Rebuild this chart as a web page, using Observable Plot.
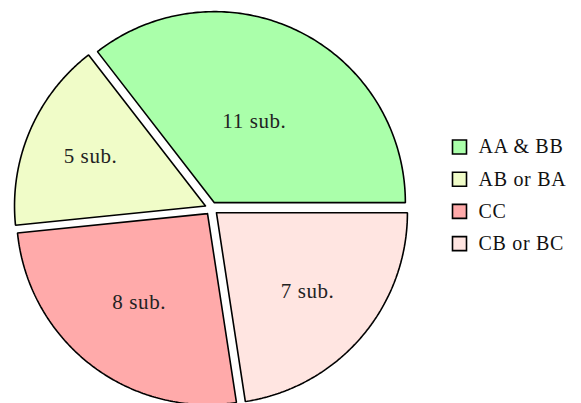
<!DOCTYPE html>
<html><head><meta charset="utf-8">
<script src="https://cdn.jsdelivr.net/npm/d3@7"></script>
<script src="https://cdn.jsdelivr.net/npm/@observablehq/plot@0.6"></script>
<style>
body{margin:0;background:#fff}
.lbl text{letter-spacing:0.6px}
.leg text{letter-spacing:0.7px}
</style></head>
<body><div id="chart"></div>
<script>
// ---- data ----
const categories = ["AA & BB", "AB or BA", "CC", "CB or BC"];
const counts = [11, 5, 8, 7];
const sliceLabels = ["11 sub.", "5 sub.", "8 sub.", "7 sub."];
const colors = ["#aaffaa", "#f0fcc8", "#ffaaaa", "#ffe5e1"];

// ---- layout ----
const W = 581, H = 403, CX = 211, CY = 208, R = 191;
const EXPLODE = 6.5 / R;
const labelDist = [0.476, 0.655, 0.584, 0.629];
const legendSquareX = 459, legendY0 = 146.5, legendStep = 32.2, legendTextX = 478;
const FONT = "'Liberation Serif', 'Times New Roman', 'DejaVu Serif', serif";
const px2x = px => (px - CX) / R;
const px2y = py => (CY - py) / R;

const total = d3.sum(counts);
let acc = 0;
const slices = counts.map((c, i) => {
  const a0 = acc / total * 2 * Math.PI; acc += c;
  const a1 = acc / total * 2 * Math.PI;
  return {cat: categories[i], a0, a1, mid: (a0 + a1) / 2, label: sliceLabels[i], i};
});
const pts = [];
for (const s of slices) {
  const ox = EXPLODE * Math.cos(s.mid), oy = EXPLODE * Math.sin(s.mid);
  pts.push({cat: s.cat, x: ox, y: oy});
  const n = 160;
  for (let k = 0; k <= n; k++) {
    const a = s.a0 + (s.a1 - s.a0) * k / n;
    pts.push({cat: s.cat, x: ox + Math.cos(a), y: oy + Math.sin(a)});
  }
  pts.push({cat: s.cat, x: ox, y: oy});
}

const chart = Plot.plot({
  width: W, height: H, margin: 0,
  x: {domain: [-CX / R, (W - CX) / R], range: [0, W], axis: null},
  y: {domain: [-(H - CY) / R, CY / R], range: [H, 0], axis: null},
  color: {domain: categories, range: colors},
  style: {background: "white", fontFamily: FONT, overflow: "hidden"},
  marks: [
    Plot.line(pts, {x: "x", y: "y", z: "cat", fill: "cat", stroke: "black",
      strokeWidth: 1.6, strokeLinejoin: "miter", curve: "linear"}),
    Plot.text(slices, {
      x: d => (EXPLODE + labelDist[d.i]) * Math.cos(d.mid),
      y: d => (EXPLODE + labelDist[d.i]) * Math.sin(d.mid),
      text: "label", fontSize: 21, fontFamily: FONT, fill: "#222", className: "lbl"
    }),
    Plot.dot(categories, {
      x: () => px2x(legendSquareX), y: (d, i) => px2y(legendY0 + i * legendStep),
      symbol: "square", r: 7.9, fill: d => d, stroke: "black", strokeWidth: 1.6
    }),
    Plot.text(categories, {
      x: () => px2x(legendTextX), y: (d, i) => px2y(legendY0 + i * legendStep),
      text: d => d, textAnchor: "start", fontSize: 20, fontFamily: FONT, fill: "#111", className: "leg"
    })
  ]
});
document.getElementById("chart").appendChild(chart);
</script>
</body></html>
